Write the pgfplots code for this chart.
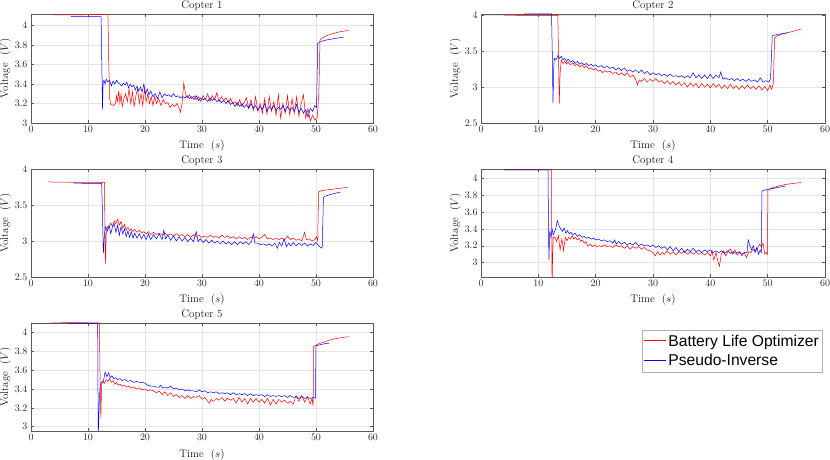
\documentclass[border=0pt]{standalone}
\usepackage{fontspec}
\usepackage{pgfplots}
\pgfplotsset{compat=1.18}
\newfontfamily\legfont{Liberation Sans}
\definecolor{axgray}{gray}{0.35}
\definecolor{grd}{gray}{0.9}
\pgfplotsset{
  cop/.style={
    scale only axis,
    xmin=0, xmax=60, xtick={0,10,...,60},
    grid=major, major grid style={grd, line width=0.4bp},
    tick align=inside, tick pos=both,
    major tick length=3bp,
    axis line style={axgray, line width=0.5bp},
    every tick/.style={axgray, line width=0.4bp},
    tick label style={font=\fontsize{10}{12}\selectfont, text=black!85},
    label style={font=\fontsize{11}{13}\selectfont, text=black!90},
    title style={font=\fontsize{11}{13}\selectfont, text=black!90, yshift=-6bp},
    xlabel={Time~~$(s)$}, ylabel={Voltage~~$(V)$},
    xlabel style={at={(0.5,0)}, anchor=base, yshift=-26bp, inner sep=0pt},
    ylabel style={yshift=-3bp},
    every axis plot/.append style={line width=0.5bp},
    anchor=south west,
  },
}
\begin{document}
\begin{tikzpicture}
\useasboundingbox (0bp,0bp) rectangle (830bp,460bp);

% Copter 1
\begin{axis}[cop, at={(31bp,337bp)}, width=342bp, height=109bp, ymin=3, ymax=4.12,
  ytick={3,3.2,...,4.01}, title={Copter 1}]
\addplot[red] coordinates {(4,4.112)(8,4.112)(13.5,4.113)(13.65,3.6)(13.8,3.25)(14.0,3.19)(14.5,3.18)(14.8,3.2)(15.0,3.28)(15.2,3.22)(15.4,3.33)(15.6,3.2)(15.8,3.3)(16.0,3.17)(16.3,3.25)(16.6,3.3)(16.9,3.22)(17.2,3.35)(17.5,3.2)(17.8,3.32)(18.1,3.17)(18.4,3.28)(18.7,3.35)(19.0,3.2)(19.3,3.3)(19.6,3.18)(19.9,3.35)(20.2,3.22)(20.5,3.3)(20.8,3.2)(21.1,3.27)(21.4,3.18)(21.7,3.27)(22.0,3.2)(22.4,3.25)(22.8,3.18)(23.2,3.24)(23.6,3.2)(24.0,3.21)(24.4,3.16)(24.8,3.19)(25.2,3.17)(25.6,3.2)(26.0,3.15)(26.2,3.11)(26.5,3.2)(26.8,3.41)(27.1,3.3)(27.4,3.26)(27.8,3.29)(28.2,3.25)(28.6,3.28)(29.0,3.24)(29.4,3.27)(29.8,3.22)(30.2,3.28)(30.6,3.24)(31.0,3.3)(31.4,3.22)(31.8,3.28)(32.2,3.24)(32.6,3.31)(33.0,3.22)(33.4,3.27)(33.8,3.23)(34.2,3.26)(34.6,3.21)(35.0,3.25)(35.4,3.2)(35.8,3.22)(36.2,3.18)(36.6,3.24)(37.0,3.17)(37.4,3.21)(37.8,3.26)(38.2,3.15)(38.6,3.24)(39.0,3.13)(39.4,3.27)(39.8,3.12)(40.2,3.2)(40.6,3.1)(41.0,3.25)(41.4,3.09)(41.8,3.27)(42.2,3.12)(42.6,3.22)(43.0,3.08)(43.4,3.29)(43.8,3.05)(44.2,3.2)(44.6,3.1)(45.0,3.28)(45.4,3.08)(45.8,3.25)(46.2,3.1)(46.6,3.27)(47.0,3.07)(47.4,3.2)(47.8,3.29)(48.2,3.05)(48.6,3.15)(49.0,3.02)(49.4,3.08)(49.8,3.03)(50.2,3.05)(50.5,3.3)(50.7,3.85)(51,3.87)(52,3.9)(53,3.92)(54,3.935)(55,3.945)(55.7,3.95)};
\addplot[blue] coordinates {(7,4.095)(9,4.092)(12.3,4.092)(12.45,3.5)(12.55,3.14)(12.65,3.42)(12.8,3.44)(13.0,3.40)(13.2,3.45)(13.5,3.42)(13.8,3.44)(14.1,3.38)(14.4,3.43)(14.7,3.4)(15.0,3.44)(15.3,3.41)(15.6,3.4)(15.9,3.38)(16.2,3.41)(16.5,3.39)(16.8,3.42)(17.1,3.36)(17.4,3.4)(17.7,3.37)(18.0,3.39)(18.3,3.34)(18.6,3.38)(18.9,3.33)(19.2,3.37)(19.5,3.32)(19.8,3.4)(20.1,3.3)(20.4,3.35)(20.7,3.29)(21.0,3.33)(21.4,3.27)(21.8,3.3)(22.2,3.25)(22.6,3.32)(23.0,3.26)(23.4,3.3)(23.8,3.28)(24.2,3.29)(24.6,3.27)(25.0,3.3)(25.4,3.27)(25.8,3.28)(26.2,3.26)(26.6,3.27)(27.0,3.26)(27.4,3.28)(27.8,3.25)(28.2,3.27)(28.6,3.24)(29.0,3.28)(29.4,3.23)(29.8,3.26)(30.2,3.24)(30.6,3.25)(31.0,3.22)(31.4,3.26)(31.8,3.23)(32.2,3.25)(32.6,3.22)(33.0,3.24)(33.4,3.21)(33.8,3.23)(34.2,3.2)(34.6,3.23)(35.0,3.19)(35.4,3.21)(35.8,3.17)(36.2,3.21)(36.6,3.17)(37.0,3.2)(37.4,3.16)(37.8,3.19)(38.2,3.15)(38.6,3.2)(39.0,3.15)(39.4,3.18)(39.8,3.13)(40.2,3.17)(40.6,3.14)(41.0,3.2)(41.4,3.12)(41.8,3.17)(42.2,3.14)(42.6,3.18)(43.0,3.13)(43.4,3.16)(43.8,3.14)(44.2,3.18)(44.6,3.12)(45.0,3.17)(45.4,3.13)(45.8,3.16)(46.2,3.12)(46.6,3.19)(47.0,3.11)(47.4,3.15)(47.8,3.1)(48.2,3.14)(48.6,3.06)(49.0,3.15)(49.4,3.12)(49.8,3.18)(50.1,3.16)(50.3,3.82)(51,3.84)(52,3.855)(53,3.865)(54,3.875)(54.8,3.88)};
\end{axis}

% Copter 2
\begin{axis}[cop, at={(481bp,337bp)}, width=344bp, height=109bp, ymin=2.5, ymax=4.02,
  ytick={2.5,3,3.5,4}, title={Copter 2}]
\addplot[red] coordinates {(4,4.005)(8,4.0)(13.4,4.0)(13.55,3.3)(13.65,2.77)(13.8,3.2)(14.0,3.38)(14.3,3.33)(14.6,3.36)(14.9,3.32)(15.2,3.35)(15.6,3.31)(16.0,3.34)(16.4,3.3)(16.8,3.32)(17.2,3.28)(17.6,3.31)(18.0,3.27)(18.4,3.3)(18.8,3.25)(19.2,3.27)(19.6,3.24)(20.0,3.26)(20.4,3.22)(20.8,3.24)(21.2,3.2)(21.6,3.23)(22.0,3.21)(22.5,3.22)(23.0,3.19)(23.5,3.21)(24.0,3.17)(24.5,3.2)(25.0,3.16)(25.5,3.2)(26.0,3.14)(26.5,3.17)(27.0,3.1)(27.3,3.03)(27.6,3.1)(28.0,3.08)(28.5,3.12)(29.0,3.07)(29.5,3.11)(30.0,3.08)(30.5,3.12)(31.0,3.07)(31.5,3.09)(32.0,3.05)(32.5,3.09)(33.0,3.04)(33.5,3.08)(34.0,3.03)(34.5,3.07)(35.0,3.02)(35.5,3.06)(36.0,3.0)(36.5,3.06)(37.0,3.01)(37.5,3.05)(38.0,2.99)(38.5,3.05)(39.0,3.0)(39.5,3.04)(40.0,2.99)(40.5,3.05)(41.0,3.0)(41.5,3.04)(42.0,2.98)(42.5,3.03)(43.0,2.98)(43.5,3.04)(44.0,2.98)(44.5,3.02)(45.0,2.97)(45.5,3.02)(46.0,2.98)(46.5,3.03)(47.0,2.98)(47.5,3.01)(48.0,2.97)(48.5,3.02)(49.0,2.96)(49.5,3.01)(50.0,2.95)(50.4,3.03)(50.7,2.97)(51.0,3.06)(51.2,3.68)(51.5,3.71)(52.5,3.74)(53.5,3.76)(54.5,3.78)(55.8,3.81)};
\addplot[blue] coordinates {(7.5,4.02)(10,4.02)(12.3,4.02)(12.45,3.4)(12.55,2.78)(12.7,3.3)(12.8,3.4)(13.1,3.38)(13.4,3.44)(13.7,3.4)(14.0,3.43)(14.3,3.38)(14.6,3.4)(14.9,3.36)(15.2,3.39)(15.6,3.35)(16.0,3.37)(16.4,3.33)(16.8,3.36)(17.2,3.32)(17.6,3.34)(18.0,3.31)(18.4,3.33)(18.8,3.3)(19.2,3.32)(19.6,3.29)(20.0,3.31)(20.5,3.28)(21.0,3.3)(21.5,3.27)(22.0,3.29)(22.5,3.26)(23.0,3.28)(23.5,3.24)(24.0,3.27)(24.5,3.23)(25.0,3.27)(25.5,3.22)(26.0,3.24)(26.5,3.21)(27.0,3.24)(27.5,3.2)(28.0,3.24)(28.5,3.19)(29.0,3.22)(29.5,3.17)(30.0,3.2)(30.5,3.17)(31.0,3.19)(31.5,3.16)(32.0,3.18)(32.5,3.15)(33.0,3.18)(33.5,3.15)(34.0,3.16)(34.5,3.14)(35.0,3.16)(35.5,3.13)(36.0,3.16)(36.5,3.13)(37.0,3.2)(37.5,3.13)(38.0,3.17)(38.5,3.12)(39.0,3.17)(39.5,3.12)(40.0,3.18)(40.5,3.12)(41.0,3.17)(41.5,3.13)(41.8,3.21)(42.2,3.11)(42.7,3.13)(43.2,3.1)(43.7,3.12)(44.2,3.09)(44.7,3.12)(45.2,3.09)(45.7,3.11)(46.2,3.08)(46.7,3.11)(47.2,3.08)(47.7,3.1)(48.2,3.07)(48.7,3.13)(49.2,3.07)(49.7,3.09)(50.2,3.07)(50.5,3.12)(50.7,3.5)(50.8,3.72)(51.5,3.73)(52.5,3.745)(53.5,3.76)};
\end{axis}

% Copter 3
\begin{axis}[cop, at={(31bp,183bp)}, width=342bp, height=108bp, ymin=2.5, ymax=4,
  ytick={2.5,3,3.5,4}, title={Copter 3}]
\addplot[red] coordinates {(3,3.82)(8,3.815)(12.9,3.815)(12.95,3.3)(13.05,2.68)(13.2,3.1)(13.4,3.2)(13.7,3.18)(14.0,3.25)(14.3,3.2)(14.6,3.28)(14.9,3.24)(15.2,3.3)(15.5,3.22)(15.8,3.27)(16.1,3.18)(16.4,3.23)(16.7,3.15)(17.0,3.19)(17.3,3.14)(17.6,3.17)(17.9,3.13)(18.2,3.16)(18.6,3.12)(19.0,3.15)(19.4,3.11)(19.8,3.13)(20.2,3.1)(20.6,3.13)(21.0,3.09)(21.5,3.12)(22.0,3.09)(22.5,3.11)(23.0,3.08)(23.5,3.11)(24.0,3.08)(24.5,3.1)(25.0,3.07)(25.5,3.1)(26.0,3.07)(26.5,3.09)(27.0,3.06)(27.5,3.09)(28.0,3.05)(28.5,3.09)(29.0,3.06)(29.5,3.08)(30.0,3.05)(30.5,3.07)(31.0,3.05)(31.5,3.08)(32.0,3.05)(32.5,3.07)(33.0,3.04)(33.5,3.08)(34.0,3.05)(34.5,3.07)(35.0,3.04)(35.5,3.06)(36.0,3.03)(36.5,3.06)(37.0,3.03)(37.5,3.05)(38.0,3.02)(38.5,3.05)(39.0,3.04)(39.5,3.06)(40.0,3.03)(40.5,3.05)(41.0,3.09)(41.5,3.03)(42.0,3.04)(42.5,3.02)(43.0,3.04)(43.5,3.02)(44.0,3.04)(44.5,3.02)(45.0,3.07)(45.5,3.02)(46.0,3.04)(46.5,3.01)(47.0,3.03)(47.5,3.0)(48.0,3.12)(48.3,3.02)(48.8,3.03)(49.3,3.0)(49.8,3.02)(50.1,3.06)(50.3,3.0)(50.45,3.68)(51,3.7)(52,3.71)(53,3.72)(54,3.73)(55.5,3.745)};
\addplot[blue] coordinates {(7.5,3.805)(10,3.80)(12.4,3.80)(12.5,3.5)(12.7,2.83)(12.9,3.1)(13.1,3.2)(13.4,3.14)(13.7,3.22)(14.0,3.1)(14.3,3.2)(14.6,3.24)(14.9,3.12)(15.2,3.22)(15.5,3.08)(15.8,3.2)(16.1,3.1)(16.4,3.17)(16.7,3.06)(17.0,3.14)(17.3,3.05)(17.6,3.13)(17.9,3.04)(18.2,3.11)(18.6,3.04)(19.0,3.1)(19.4,3.03)(19.8,3.09)(20.2,3.02)(20.6,3.1)(21.0,3.02)(21.5,3.09)(22.0,3.03)(22.5,3.1)(23.0,3.02)(23.3,3.15)(23.6,3.03)(24.0,3.08)(24.5,3.01)(25.0,3.07)(25.5,3.0)(26.0,3.06)(26.5,3.0)(27.0,3.05)(27.5,2.99)(28.0,3.04)(28.5,2.99)(29.0,3.13)(29.3,2.99)(29.7,3.03)(30.2,2.98)(30.7,3.02)(31.2,2.97)(31.7,3.01)(32.2,2.97)(32.7,3.0)(33.2,2.96)(33.7,3.0)(34.2,2.96)(34.7,2.99)(35.2,2.95)(35.7,2.99)(36.2,2.95)(36.7,2.99)(37.2,2.96)(37.7,2.99)(38.2,2.95)(38.7,3.0)(39.0,3.1)(39.3,2.97)(39.8,2.97)(40.3,2.95)(40.8,2.96)(41.3,2.94)(41.8,2.96)(42.3,2.93)(42.8,2.97)(43.2,2.9)(43.6,2.98)(44.0,2.93)(44.4,3.03)(44.8,2.92)(45.2,2.97)(45.6,2.93)(46.0,2.98)(46.5,2.93)(47.0,2.97)(47.5,2.94)(48.0,2.97)(48.5,2.93)(49.0,2.96)(49.5,2.94)(50.0,2.98)(50.5,2.93)(50.9,2.9)(51.1,2.92)(51.3,3.6)(51.5,3.62)(52.5,3.645)(53.5,3.665)(54.3,3.68)};
\end{axis}

% Copter 4
\begin{axis}[cop, at={(481bp,183bp)}, width=344bp, height=108bp, ymin=2.83, ymax=4.11,
  ytick={3,3.2,...,4.01}, title={Copter 4}]
\addplot[red] coordinates {(4,4.1)(8,4.1)(12.3,4.1)(12.35,3.2)(12.4,2.7)(12.5,3.1)(12.6,3.3)(12.9,3.3)(13.2,3.25)(13.5,3.32)(13.8,3.15)(14.1,3.28)(14.4,3.14)(14.7,3.3)(15.0,3.26)(15.3,3.3)(15.6,3.28)(15.9,3.32)(16.2,3.28)(16.5,3.3)(16.8,3.27)(17.1,3.29)(17.4,3.25)(17.7,3.27)(18.0,3.23)(18.3,3.25)(18.6,3.2)(19.0,3.22)(19.4,3.19)(19.8,3.21)(20.2,3.19)(20.6,3.2)(21.0,3.19)(21.5,3.21)(22.0,3.19)(22.5,3.2)(23.0,3.18)(23.5,3.21)(24.0,3.19)(24.5,3.2)(25.0,3.17)(25.5,3.2)(26.0,3.16)(26.5,3.19)(27.0,3.17)(27.5,3.19)(28.0,3.16)(28.5,3.18)(29.0,3.15)(29.5,3.14)(30.0,3.12)(30.4,3.08)(30.8,3.13)(31.2,3.09)(31.6,3.12)(32.0,3.1)(32.5,3.14)(33.0,3.1)(33.5,3.13)(34.0,3.09)(34.5,3.13)(35.0,3.11)(35.5,3.14)(36.0,3.1)(36.5,3.13)(37.0,3.1)(37.5,3.12)(38.0,3.1)(38.5,3.12)(39.0,3.09)(39.5,3.12)(40.0,3.08)(40.3,3.14)(40.6,3.03)(41.0,3.12)(41.3,3.02)(41.6,2.96)(41.9,3.1)(42.3,3.14)(42.7,3.08)(43.1,3.14)(43.5,3.16)(43.9,3.1)(44.3,3.15)(44.7,3.09)(45.1,3.13)(45.5,3.08)(45.9,3.12)(46.3,3.06)(46.7,3.13)(47.1,3.12)(47.5,3.16)(47.9,3.14)(48.3,3.18)(48.6,3.22)(48.9,3.19)(49.2,3.23)(49.5,3.1)(49.8,3.12)(49.95,3.1)(50.05,3.86)(51,3.89)(52,3.91)(53,3.925)(54,3.935)(55.8,3.95)};
\addplot[blue] coordinates {(4,4.1)(8,4.1)(11.7,4.1)(11.75,3.5)(11.85,3.03)(12.0,3.38)(12.2,3.3)(12.4,3.4)(12.6,3.33)(12.9,3.38)(13.1,3.42)(13.3,3.5)(13.6,3.44)(13.9,3.4)(14.2,3.37)(14.5,3.41)(14.8,3.35)(15.1,3.38)(15.4,3.34)(15.7,3.36)(16.0,3.33)(16.4,3.35)(16.8,3.31)(17.2,3.33)(17.6,3.3)(18.0,3.31)(18.4,3.29)(18.8,3.3)(19.2,3.28)(19.6,3.29)(20.0,3.27)(20.5,3.28)(21.0,3.26)(21.5,3.27)(22.0,3.25)(22.5,3.26)(23.0,3.23)(23.3,3.27)(23.6,3.22)(24.0,3.25)(24.5,3.22)(25.0,3.24)(25.5,3.21)(26.0,3.23)(26.5,3.21)(27.0,3.24)(27.5,3.2)(28.0,3.22)(28.5,3.2)(29.0,3.21)(29.5,3.19)(30.0,3.21)(30.5,3.18)(31.0,3.2)(31.5,3.17)(32.0,3.19)(32.5,3.15)(33.0,3.19)(33.5,3.14)(34.0,3.18)(34.5,3.13)(35.0,3.17)(35.5,3.12)(36.0,3.16)(36.5,3.13)(37.0,3.17)(37.5,3.13)(38.0,3.15)(38.5,3.12)(39.0,3.15)(39.5,3.13)(40.0,3.15)(40.5,3.12)(41.0,3.14)(41.5,3.12)(42.0,3.14)(42.5,3.11)(43.0,3.14)(43.5,3.11)(44.0,3.13)(44.5,3.11)(45.0,3.13)(45.5,3.1)(46.0,3.12)(46.4,3.12)(46.6,3.27)(46.9,3.2)(47.2,3.15)(47.5,3.2)(47.8,3.12)(48.1,3.18)(48.4,3.1)(48.7,3.15)(48.9,3.12)(49.0,3.85)(50,3.87)(51,3.88)(52,3.895)(53,3.905)};
\end{axis}

% Copter 5
\begin{axis}[cop, at={(31bp,29bp)}, width=342bp, height=108bp, ymin=2.954, ymax=4.10,
  ytick={3,3.2,...,4.01}, title={Copter 5},
  legend style={at={(1.7865,0.935)}, anchor=north west, draw=gray!60, line width=0.5bp,
    font=\legfont\fontsize{15.7}{18}\selectfont, inner xsep=1bp, inner ysep=2.5bp,
    row sep=3bp, cells={anchor=west}},
  legend image code/.code={\draw[#1, line width=1.2bp] (0bp,0.5bp) -- (22bp,0.5bp);}]
\addplot[red] coordinates {(3.5,4.11)(8,4.105)(12.0,4.1)(12.1,3.6)(12.25,3.09)(12.4,3.45)(12.6,3.48)(12.9,3.46)(13.2,3.5)(13.5,3.48)(13.8,3.51)(14.1,3.47)(14.4,3.49)(14.7,3.45)(15.0,3.47)(15.3,3.44)(15.6,3.45)(16.0,3.43)(16.4,3.44)(16.8,3.42)(17.2,3.43)(17.6,3.41)(18.0,3.42)(18.5,3.4)(19.0,3.41)(19.5,3.39)(20.0,3.4)(20.5,3.38)(21.0,3.39)(21.5,3.38)(22.0,3.36)(22.5,3.38)(23.0,3.34)(23.5,3.37)(24.0,3.33)(24.5,3.36)(25.0,3.32)(25.5,3.34)(26.0,3.31)(26.5,3.33)(27.0,3.3)(27.5,3.33)(28.0,3.3)(28.5,3.32)(29.0,3.31)(29.5,3.33)(30.0,3.29)(30.5,3.31)(31.0,3.27)(31.3,3.25)(31.6,3.29)(32.0,3.27)(32.5,3.3)(33.0,3.28)(33.5,3.31)(34.0,3.27)(34.5,3.3)(35.0,3.28)(35.5,3.3)(36.0,3.25)(36.5,3.31)(37.0,3.26)(37.5,3.3)(38.0,3.24)(38.5,3.3)(39.0,3.26)(39.5,3.3)(40.0,3.26)(40.5,3.29)(41.0,3.25)(41.5,3.3)(42.0,3.23)(42.5,3.29)(43.0,3.24)(43.5,3.29)(44.0,3.26)(44.5,3.28)(45.0,3.25)(45.5,3.27)(46.0,3.24)(46.5,3.33)(47.0,3.27)(47.5,3.33)(48.0,3.26)(48.5,3.32)(49.0,3.24)(49.3,3.3)(49.5,3.22)(49.6,3.85)(50.5,3.88)(51.5,3.9)(52.5,3.92)(53.5,3.935)(54.5,3.945)(55.7,3.955)};
\addlegendentry{Battery Life Optimizer}
\addplot[blue] coordinates {(6.5,4.095)(9,4.095)(11.7,4.095)(11.75,3.4)(11.8,2.9)(12.0,3.3)(12.15,3.45)(12.4,3.47)(12.7,3.48)(13.0,3.58)(13.3,3.53)(13.6,3.57)(13.9,3.52)(14.2,3.54)(14.5,3.51)(14.8,3.52)(15.2,3.5)(15.6,3.51)(16.0,3.49)(16.5,3.5)(17.0,3.48)(17.5,3.49)(18.0,3.47)(18.5,3.48)(19.0,3.47)(19.5,3.47)(20.0,3.46)(20.5,3.44)(21.0,3.43)(21.5,3.43)(22.0,3.42)(22.5,3.42)(22.8,3.44)(23.1,3.41)(23.5,3.42)(24.0,3.41)(24.5,3.43)(25.0,3.4)(25.5,3.41)(26.0,3.39)(26.5,3.4)(27.0,3.38)(27.5,3.39)(28.0,3.38)(28.5,3.38)(29.0,3.37)(29.5,3.39)(30.0,3.37)(30.5,3.38)(31.0,3.36)(31.5,3.37)(32.0,3.36)(32.5,3.37)(33.0,3.35)(33.5,3.36)(34.0,3.35)(34.5,3.36)(35.0,3.34)(35.5,3.36)(36.0,3.34)(36.5,3.35)(37.0,3.34)(37.5,3.35)(38.0,3.33)(38.5,3.35)(39.0,3.33)(39.5,3.34)(40.0,3.33)(40.5,3.34)(41.0,3.32)(41.5,3.34)(42.0,3.32)(42.5,3.33)(43.0,3.32)(43.5,3.33)(44.0,3.32)(44.5,3.33)(45.0,3.31)(45.5,3.33)(46.0,3.31)(46.5,3.32)(47.0,3.3)(47.5,3.32)(48.0,3.3)(48.5,3.31)(49.0,3.3)(49.5,3.31)(49.9,3.3)(50.0,3.86)(50.8,3.87)(51.5,3.88)(52.3,3.885)};
\addlegendentry{Pseudo-Inverse}
\end{axis}
\end{tikzpicture}
\end{document}
